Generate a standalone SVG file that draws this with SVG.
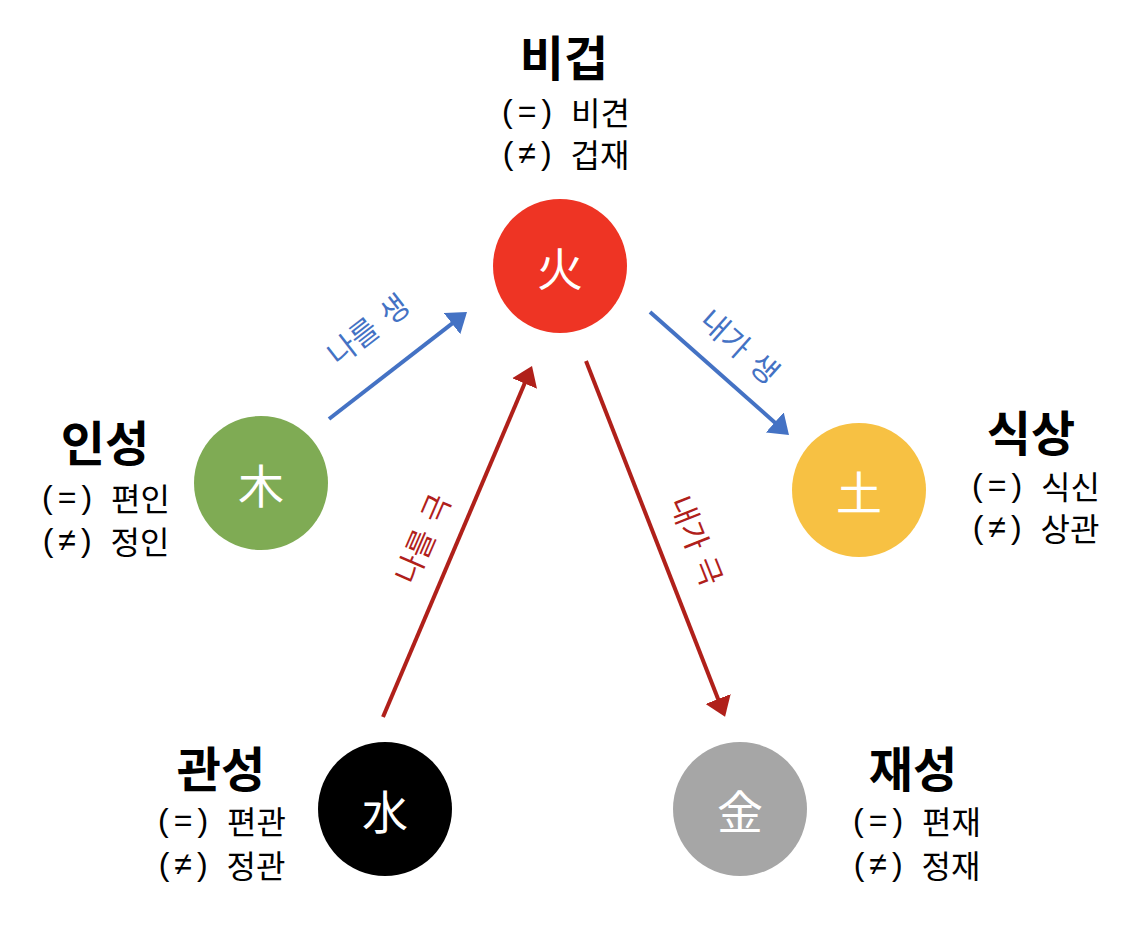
<svg xmlns="http://www.w3.org/2000/svg" width="1140" height="928" viewBox="0 0 1140 928">
<style>
text{font-family:"Noto Sans CJK KR","Noto Sans CJK SC",sans-serif;text-anchor:middle;dominant-baseline:central}
.title{font-size:48px;font-weight:700;fill:#000}
.sub{font-size:32px;font-weight:400;fill:#000}
.sub tspan{font-family:"Liberation Sans",Arial,sans-serif;letter-spacing:5px}
.ch{font-size:46px;fill:#fff}
.lb{font-size:30px;word-spacing:4px}
.cn{stroke-width:4;fill:none}
</style>
<defs>
<marker id="ab" markerUnits="userSpaceOnUse" viewBox="0 0 19 27" markerWidth="19" markerHeight="27" refX="9" refY="13.5" orient="auto"><path d="M0,0 L19,13.5 L0,27 Z" fill="#4472C4"/></marker>
<marker id="ar" markerUnits="userSpaceOnUse" viewBox="0 0 19 27" markerWidth="19" markerHeight="27" refX="9" refY="13.5" orient="auto"><path d="M0,0 L19,13.5 L0,27 Z" fill="#B0201A"/></marker>
</defs>
<rect width="1140" height="928" fill="#fff"/>
<g id="connectors">
<line class="cn" x1="329" y1="419" x2="459.1" y2="318.1" stroke="#4472C4" marker-end="url(#ab)"/>
<line class="cn" x1="650" y1="312" x2="781.5" y2="428.4" stroke="#4472C4" marker-end="url(#ab)"/>
<line class="cn" x1="383" y1="717" x2="528.1" y2="375.2" stroke="#B0201A" marker-end="url(#ar)"/>
<line class="cn" x1="586" y1="361" x2="721.4" y2="707.4" stroke="#B0201A" marker-end="url(#ar)"/>
<text class="lb" fill="#4472C4" transform="translate(367,328) rotate(-37.8)">나를 생</text>
<text class="lb" fill="#4472C4" transform="translate(741,345) rotate(41.7)">내가 생</text>
<text class="lb" fill="#B0201A" transform="translate(421,538) rotate(-66.6)">나를 극</text>
<text class="lb" fill="#B0201A" transform="translate(698,540) rotate(68.4)">내가 극</text>
</g>
<g id="fire">
<circle cx="560" cy="266" r="67" fill="#EE3424"/>
<text class="ch" x="560" y="266">火</text>
<text class="title" x="564" y="55">비겁</text>
<text class="sub" x="566" y="111"><tspan>(=) </tspan>비견</text>
<text class="sub" x="566" y="153"><tspan>(≠) </tspan>겁재</text>
</g>
<g id="wood">
<circle cx="261" cy="483" r="67" fill="#7FAB54"/>
<text class="ch" x="261" y="483">木</text>
<text class="title" x="105" y="440">인성</text>
<text class="sub" x="106" y="497"><tspan>(=) </tspan>편인</text>
<text class="sub" x="106" y="540"><tspan>(≠) </tspan>정인</text>
</g>
<g id="earth">
<circle cx="859" cy="490" r="67" fill="#F7C143"/>
<text class="ch" x="859" y="490">土</text>
<text class="title" x="1031" y="430">식상</text>
<text class="sub" x="1036" y="485"><tspan>(=) </tspan>식신</text>
<text class="sub" x="1036" y="527"><tspan>(≠) </tspan>상관</text>
</g>
<g id="water">
<circle cx="385" cy="809" r="67" fill="#000"/>
<text class="ch" x="385" y="809">水</text>
<text class="title" x="221" y="766">관성</text>
<text class="sub" x="222" y="820"><tspan>(=) </tspan>편관</text>
<text class="sub" x="222" y="864"><tspan>(≠) </tspan>정관</text>
</g>
<g id="metal">
<circle cx="740" cy="809" r="67" fill="#A6A6A6"/>
<text class="ch" x="740" y="809">金</text>
<text class="title" x="913" y="766">재성</text>
<text class="sub" x="917" y="820"><tspan>(=) </tspan>편재</text>
<text class="sub" x="917" y="864"><tspan>(≠) </tspan>정재</text>
</g>
</svg>
